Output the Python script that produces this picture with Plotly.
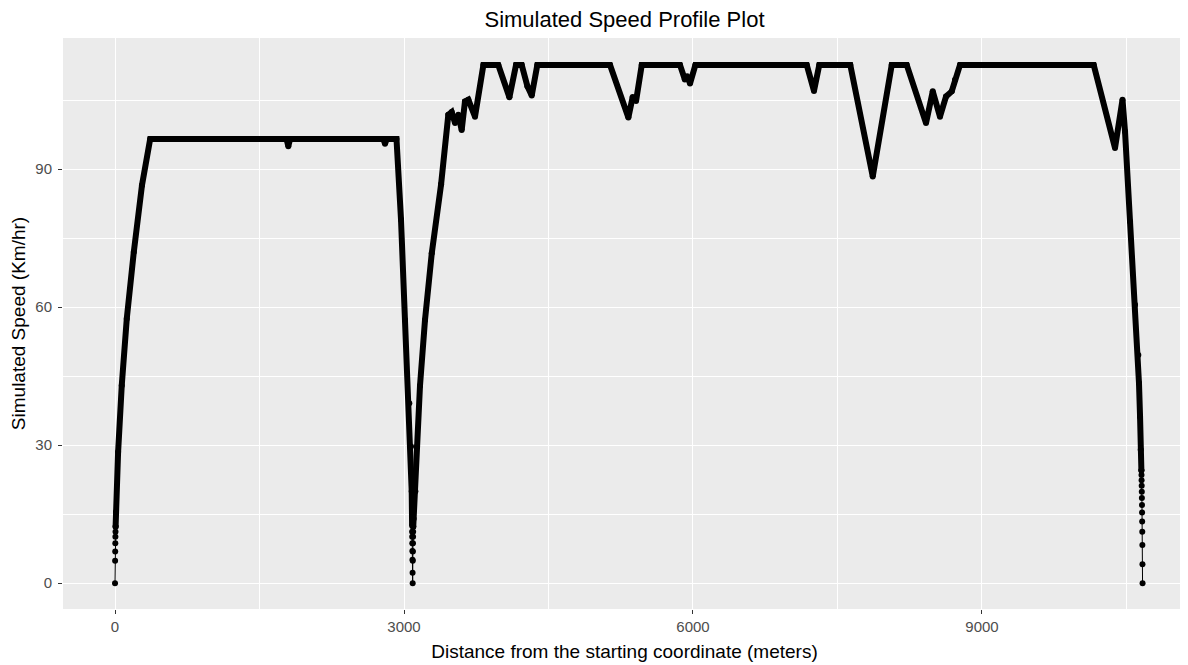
import plotly.graph_objects as go

# ---- data (distance in metres, speed in km/h) ----
# sparse points while pulling away from the start
start_dist = [0, 1, 2, 3, 4, 5, 6]
start_speed = [0, 4.9, 6.9, 8.7, 10.1, 11.2, 12.3]

# dense section 1: acceleration, 60 mph cruise, braking to the stop near 3090 m
seg1_dist = [6, 10, 32, 70, 122, 195, 280, 365, 1780, 1799, 1818, 2785, 2803, 2821,
             2922, 2969, 3010, 3055, 3073, 3080, 3084]
seg1_speed = [12.3, 15.5, 28.5, 43.0, 57.5, 72.0, 86.5, 96.56, 96.56, 95.0, 96.56, 96.56, 95.5, 96.56,
              96.56, 79.0, 57.2, 39.1, 29.7, 20.0, 12.5]

# sparse points at the stop near 3090 m (braking, then pulling away)
stop_dist = [3084, 3085, 3086, 3087, 3088, 3089, 3090, 3091, 3092, 3093, 3094, 3095, 3096]
stop_speed = [11.2, 10.1, 8.7, 7.0, 5.1, 2.3, 0, 4.9, 6.9, 8.7, 10.1, 11.2, 12.3]

# dense section 2: acceleration, 70 mph cruise with slowdowns, final braking
seg2_dist = [3096, 3100, 3118, 3135, 3166, 3218, 3288, 3385, 3460, 3495, 3530, 3564, 3599,
             3633, 3668, 3737, 3824, 3979, 4094, 4163, 4222, 4281, 4326, 4384,
             5139, 5329, 5374, 5409, 5468, 5865, 5915, 5940, 5969, 6025,
             7181, 7256, 7311, 7633, 7866, 8063, 8219, 8419, 8489, 8564, 8627,
             8686, 8720, 8772, 10160, 10381, 10459, 10485, 10537, 10589, 10623,
             10630, 10641, 10648, 10655]
seg2_speed = [12.3, 14.0, 20.0, 29.7, 42.9, 57.2, 71.7, 86.7, 101.8, 102.4, 100.0, 101.8, 98.5,
              104.7, 105.1, 101.4, 112.65, 112.65, 105.6, 112.65, 112.65, 108.0, 106.0, 112.65,
              112.65, 101.2, 105.7, 104.8, 112.65, 112.65, 109.5, 110.2, 108.6, 112.65,
              112.65, 107.0, 112.65, 112.65, 88.4, 112.65, 112.65, 100.0, 106.9, 101.4, 105.8,
              106.9, 109.4, 112.65, 112.65, 94.6, 105.1, 98.2, 78.6, 60.5, 49.6,
              43.5, 36.2, 29.0, 24.5]

# sparse points while braking to the final stop
end_dist = [10655, 10656, 10657, 10658, 10659, 10660, 10661, 10662, 10663, 10664, 10665, 10666, 10667]
end_speed = [24.5, 23.5, 22.4, 21.2, 19.9, 18.5, 17.0, 15.4, 13.4, 11.2, 8.3, 4.1, 0]

x_ticks = [0, 3000, 6000, 9000]
y_ticks = [0, 30, 60, 90]

# ---- figure ----
all_dist = start_dist + seg1_dist + stop_dist + seg2_dist + end_dist
all_speed = start_speed + seg1_speed + stop_speed + seg2_speed + end_speed

fig = go.Figure()

# thin connecting line through every point
fig.add_trace(go.Scatter(x=all_dist, y=all_speed, mode="lines",
                         line=dict(color="black", width=1), hoverinfo="skip", showlegend=False))

# densely packed points appear as a thick band
thick_x = seg1_dist + [None] + seg2_dist
thick_y = seg1_speed + [None] + seg2_speed
fig.add_trace(go.Scatter(x=thick_x, y=thick_y, mode="lines+markers",
                         line=dict(color="black", width=6),
                         marker=dict(color="black", size=6),
                         connectgaps=False, showlegend=False))

# individually visible points
dots_x = start_dist + stop_dist + end_dist
dots_y = start_speed + stop_speed + end_speed
fig.add_trace(go.Scatter(x=dots_x, y=dots_y, mode="markers",
                         marker=dict(color="black", size=6), showlegend=False))

font_family = "Arial, Liberation Sans, sans-serif"

# the page body adds an 8px offset, so the figure is 8px smaller each way
W, H = 1180, 657
fig.update_layout(
    width=W, height=H,
    margin=dict(l=55, r=2, t=30, b=56, autoexpand=False),
    paper_bgcolor="white",
    plot_bgcolor="#EBEBEB",
    font=dict(family=font_family, color="black"),
    title=dict(text="Simulated Speed Profile Plot", x=0.5, xref="paper",
               y=1 - 11.5 / H, yref="container", yanchor="middle", xanchor="center",
               font=dict(size=22, color="black", family=font_family)),
    xaxis=dict(range=[-540, 11118], tickvals=x_ticks, ticktext=[str(v) for v in x_ticks],
               automargin=False,
               showgrid=True, gridcolor="white", gridwidth=1.4,
               minor=dict(dtick=1500, tick0=0, showgrid=True, gridcolor="white", gridwidth=0.7),
               zeroline=False, showline=False,
               ticks="outside", ticklen=4, tickwidth=1, tickcolor="#333333",
               tickfont=dict(size=15, color="#4D4D4D"),
               title=dict(text="Distance from the starting coordinate (meters)",
                          font=dict(size=19, color="black"), standoff=10)),
    yaxis=dict(range=[-5.6, 118.5], tickvals=y_ticks, ticktext=[str(v) for v in y_ticks],
               automargin=False,
               showgrid=True, gridcolor="white", gridwidth=1.4,
               minor=dict(dtick=15, tick0=0, showgrid=True, gridcolor="white", gridwidth=0.7),
               zeroline=False, showline=False,
               ticks="outside", ticklen=4, tickwidth=1, tickcolor="#333333",
               tickfont=dict(size=15, color="#4D4D4D"), ticklabelstandoff=3,
               title=dict(text="Simulated Speed (Km/hr)",
                          font=dict(size=19, color="black"), standoff=9)),
)

fig.write_html("out.html")
